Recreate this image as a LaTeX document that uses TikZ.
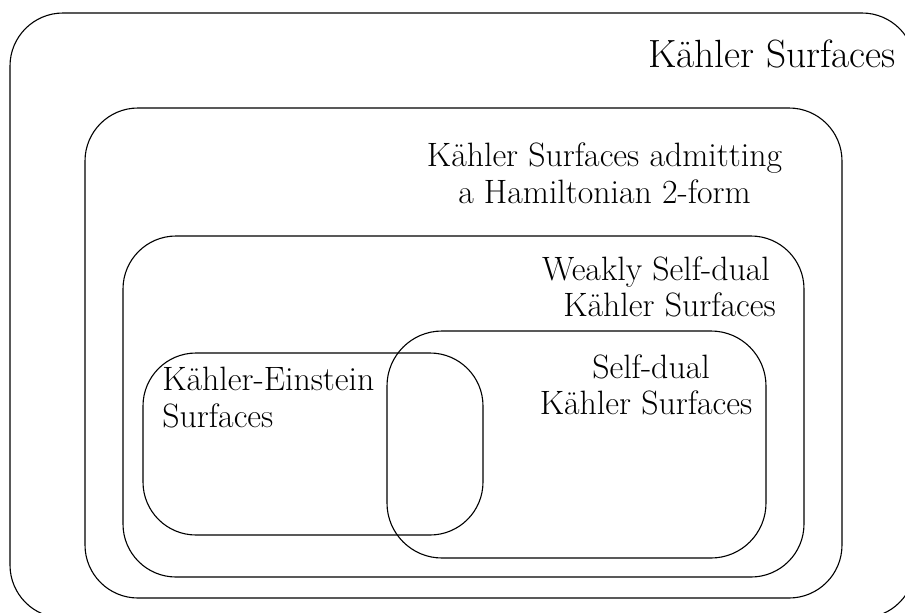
\documentclass[tikz,border=0pt]{standalone}
\usepackage{fontspec}
\begin{document}
\begin{tikzpicture}[x=0.5pt,y=-0.5pt,
  setbox/.style={draw=black,line width=0.55pt,rounded corners=26.5pt},
  lbl/.style={inner sep=0pt,anchor=base,font=\fontsize{16.9}{18.5}\selectfont},
  lblw/.style={lbl,anchor=base west},
  lblbig/.style={lbl,font=\fontsize{19.7}{23}\selectfont}]
\useasboundingbox (0,0) rectangle (905,612);
\clip (0,0) rectangle (905,612);

% nested families of surfaces
\draw[setbox] (10,13) rectangle (915,618);
\draw[setbox] (85,108) rectangle (842,598);
\draw[setbox] (123,236) rectangle (804,577);
\draw[setbox] (143,353) rectangle (483,535);
\draw[setbox,rounded corners=27.5pt] (387,331) rectangle (766,558);

% labels
\node[lblbig] (kahler) at (772,67) {Kähler Surfaces};
\node[lbl] (hamA) at (604.5,166) {Kähler Surfaces admitting};
\node[lbl] (hamB) at (604.5,203) {a Hamiltonian 2-form};
\node[lbl] (wsdA) at (656,280) {Weakly Self-dual};
\node[lbl] (wsdB) at (669.5,316) {Kähler Surfaces};
\node[lbl] (sdA) at (651,378) {Self-dual};
\node[lbl] (sdB) at (646,414) {Kähler Surfaces};
\node[lblw] (keA) at (162,390) {Kähler-Einstein};
\node[lblw] (keB) at (162,427) {Surfaces};
\end{tikzpicture}
\end{document}
